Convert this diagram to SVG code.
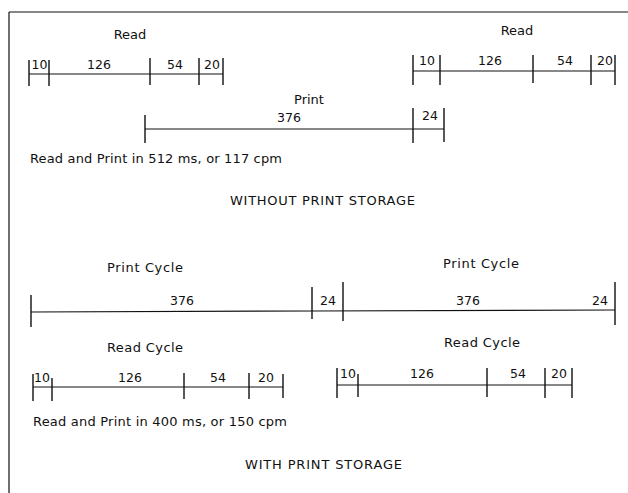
<svg xmlns="http://www.w3.org/2000/svg" width="628" height="493" viewBox="0 0 628 493">
<style>
  text { font-family: "DejaVu Sans", "Liberation Sans", sans-serif; fill: #111; }
  .lbl { font-size: 13px; }
  .num { font-size: 12.5px; text-anchor: middle; }
  .ttl { font-size: 13px; }
  .ln { stroke: #111; stroke-width: 1.2; fill: none; }
  .tk { stroke: #111; stroke-width: 1.4; fill: none; }
</style>
<rect x="0" y="0" width="628" height="493" fill="#fff"/>
<g id="frame">
  <path class="ln" d="M9,12 H628 M9,12 V493" stroke-width="1.5"/>
</g>

<g id="without-read-1">
  <text class="lbl" x="130" y="39" text-anchor="middle">Read</text>
  <path class="ln" d="M29,74 H223"/>
  <path class="tk" d="M29,60 V86 M49,60 V86 M150,58 V85 M199,58 V85 M223,58 V85"/>
  <text class="num" x="39.5" y="69">10</text>
  <text class="num" x="99" y="69">126</text>
  <text class="num" x="175" y="69">54</text>
  <text class="num" x="212" y="69">20</text>
</g>

<g id="without-read-2">
  <text class="lbl" x="517" y="35" text-anchor="middle">Read</text>
  <path class="ln" d="M413,71 H615"/>
  <path class="tk" d="M413,55 V85 M440,55 V85 M533,55 V83 M591,55 V85 M615,55 V85"/>
  <text class="num" x="427" y="65">10</text>
  <text class="num" x="490" y="65">126</text>
  <text class="num" x="565" y="65">54</text>
  <text class="num" x="605" y="65">20</text>
</g>

<g id="without-print">
  <text class="lbl" x="309" y="104" text-anchor="middle">Print</text>
  <path class="ln" d="M145,129 H444"/>
  <path class="tk" d="M145,115 V143 M413,108 V143 M444,108 V142"/>
  <text class="num" x="289" y="122">376</text>
  <text class="num" x="430" y="120">24</text>
</g>

<g id="without-summary">
  <text class="lbl" x="30" y="163" textLength="252" lengthAdjust="spacing">Read and Print in 512 ms, or 117 cpm</text>
  <text class="ttl" x="230" y="205" textLength="185" lengthAdjust="spacing">WITHOUT PRINT STORAGE</text>
</g>

<g id="with-print">
  <text class="lbl" x="107" y="272" textLength="76" lengthAdjust="spacing">Print Cycle</text>
  <text class="lbl" x="443" y="268" textLength="76" lengthAdjust="spacing">Print Cycle</text>
  <path class="ln" d="M31,312 L312,311 L615,310"/>
  <path class="tk" d="M31,295 V327 M312,287 V319 M343,282 V321 M615,282 V325"/>
  <text class="num" x="182" y="305">376</text>
  <text class="num" x="328" y="305">24</text>
  <text class="num" x="468" y="305">376</text>
  <text class="num" x="600" y="305">24</text>
</g>

<g id="with-read-1">
  <text class="lbl" x="107" y="352" textLength="76" lengthAdjust="spacing">Read Cycle</text>
  <path class="ln" d="M33,387 H283"/>
  <path class="tk" d="M33,374 V401 M52,378 V401 M184,373 V399 M249,373 V399 M283,374 V398"/>
  <text class="num" x="42" y="382">10</text>
  <text class="num" x="130" y="382">126</text>
  <text class="num" x="218" y="382">54</text>
  <text class="num" x="266" y="382">20</text>
</g>

<g id="with-read-2">
  <text class="lbl" x="444" y="347" textLength="76" lengthAdjust="spacing">Read Cycle</text>
  <path class="ln" d="M337,385 H572"/>
  <path class="tk" d="M337,368 V398 M358,374 V397 M487,368 V397 M545,368 V398 M572,368 V398"/>
  <text class="num" x="348" y="378">10</text>
  <text class="num" x="422" y="378">126</text>
  <text class="num" x="518" y="378">54</text>
  <text class="num" x="559" y="378">20</text>
</g>

<g id="with-summary">
  <text class="lbl" x="33" y="426" textLength="254" lengthAdjust="spacing">Read and Print in 400 ms, or 150 cpm</text>
  <text class="ttl" x="245" y="469" textLength="157" lengthAdjust="spacing">WITH PRINT STORAGE</text>
</g>
</svg>
